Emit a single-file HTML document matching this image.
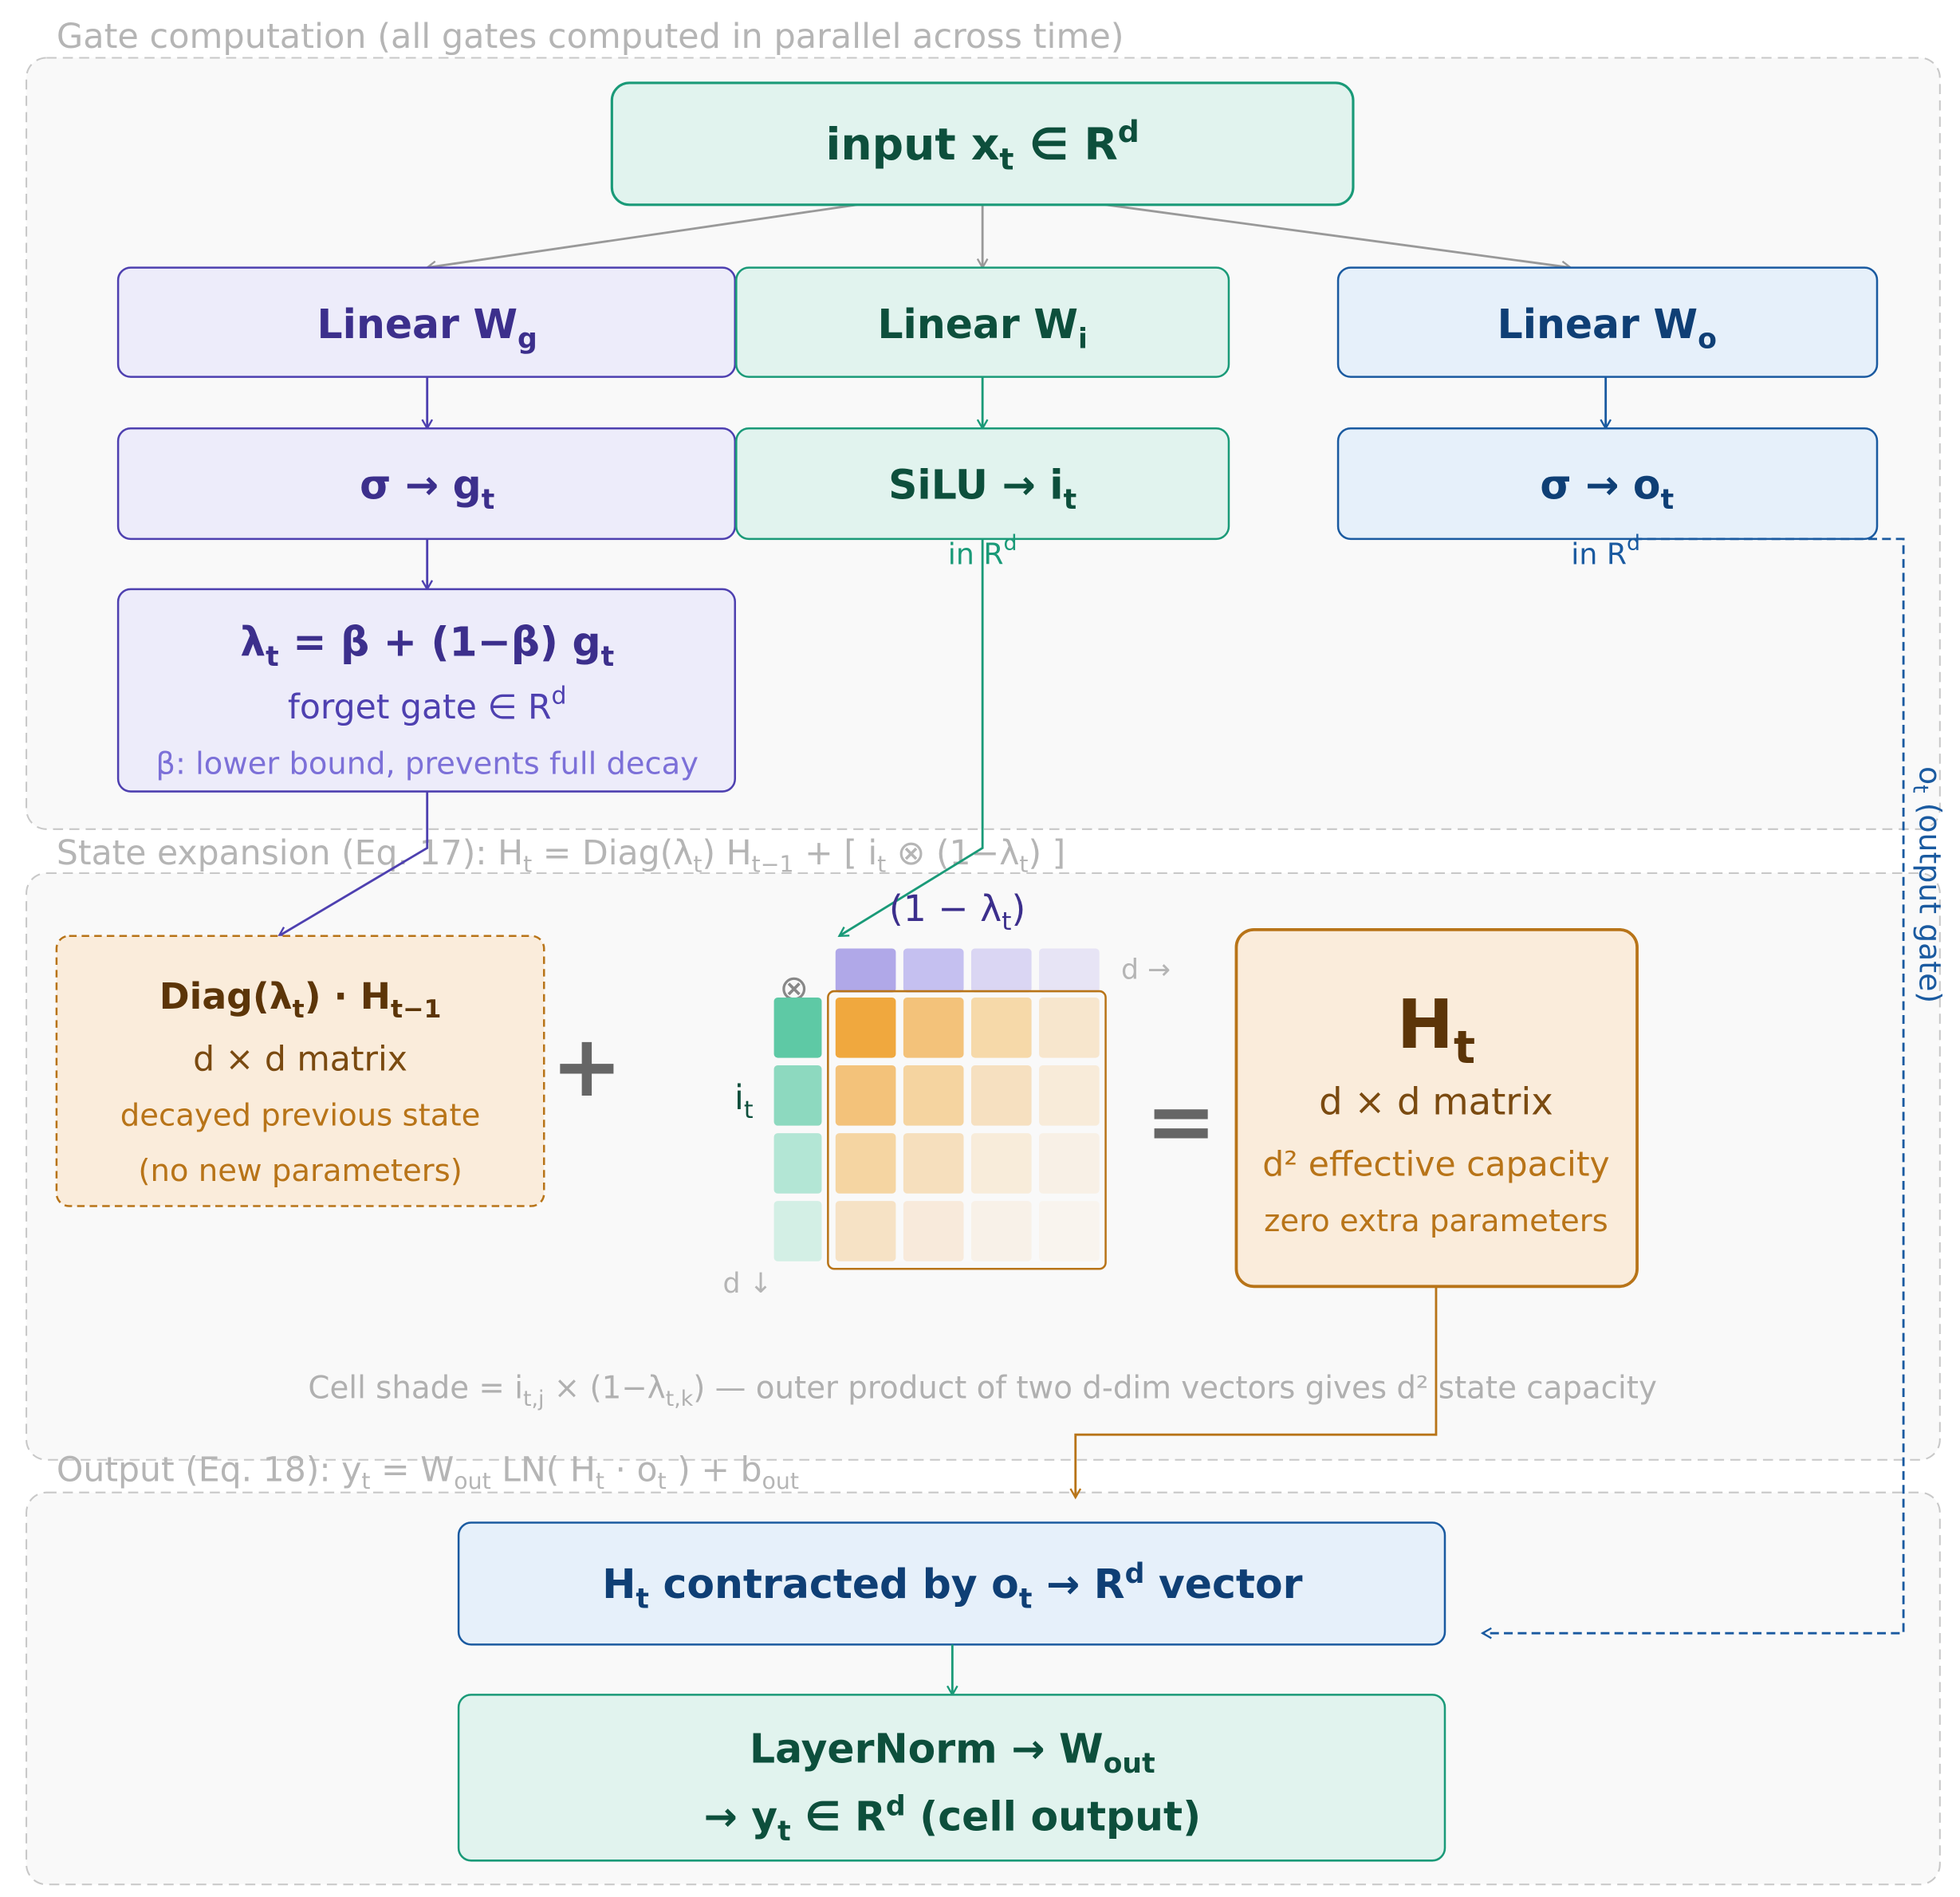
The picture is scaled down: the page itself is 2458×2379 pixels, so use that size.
<!DOCTYPE html>
<html><head><meta charset="utf-8"><style>
html,body{margin:0;padding:0;background:#fff;}
svg{display:block;}
text{font-family:"DejaVu Sans","Liberation Sans",sans-serif;}
</style></head><body>
<svg width="2458" height="2379" viewBox="0 0 1560 1510" preserveAspectRatio="none" xmlns="http://www.w3.org/2000/svg">
<defs>
<marker id="ag" markerWidth="10" markerHeight="10" refX="8" refY="5" orient="auto" markerUnits="userSpaceOnUse"><path d="M1,1 L8,5 L1,9" fill="none" stroke="#999" stroke-width="1.5"/></marker>
<marker id="ap" markerWidth="10" markerHeight="10" refX="8" refY="5" orient="auto" markerUnits="userSpaceOnUse"><path d="M1,1 L8,5 L1,9" fill="none" stroke="#4e40b0" stroke-width="1.5"/></marker>
<marker id="agr" markerWidth="10" markerHeight="10" refX="8" refY="5" orient="auto" markerUnits="userSpaceOnUse"><path d="M1,1 L8,5 L1,9" fill="none" stroke="#1a9a78" stroke-width="1.5"/></marker>
<marker id="ab" markerWidth="10" markerHeight="10" refX="8" refY="5" orient="auto" markerUnits="userSpaceOnUse"><path d="M1,1 L8,5 L1,9" fill="none" stroke="#1a5aa0" stroke-width="1.5"/></marker>
<marker id="ao" markerWidth="10" markerHeight="10" refX="8" refY="5" orient="auto" markerUnits="userSpaceOnUse"><path d="M1,1 L8,5 L1,9" fill="none" stroke="#b87418" stroke-width="1.5"/></marker>
</defs>
<rect width="1560" height="1510" fill="#fff"/>
<rect x="21" y="46" width="1523" height="614" rx="16" fill="#f9f9f9" stroke="#c8c8c8" stroke-width="1.3" stroke-dasharray="8,5"/>
<rect x="21" y="695" width="1523" height="467" rx="16" fill="#f9f9f9" stroke="#c8c8c8" stroke-width="1.3" stroke-dasharray="8,5"/>
<rect x="21" y="1188" width="1523" height="312" rx="16" fill="#f9f9f9" stroke="#c8c8c8" stroke-width="1.3" stroke-dasharray="8,5"/>
<text x="45" y="38" font-size="27.3" fill="#b5b5b5">Gate computation (all gates computed in parallel across time)</text>
<text x="45" y="688" font-size="27" fill="#b5b5b5">State expansion (Eq. 17): H<tspan font-size="18" dy="6">t</tspan><tspan dy="-6"> = Diag(λ</tspan><tspan font-size="18" dy="6">t</tspan><tspan dy="-6">) H</tspan><tspan font-size="18" dy="6">t−1</tspan><tspan dy="-6"> + [ i</tspan><tspan font-size="18" dy="6">t</tspan><tspan dy="-6"> ⊗ (1−λ</tspan><tspan font-size="18" dy="6">t</tspan><tspan dy="-6">) ]</tspan></text>
<text x="45" y="1179" font-size="27" fill="#b5b5b5">Output (Eq. 18): y<tspan font-size="18" dy="6">t</tspan><tspan dy="-6"> = W</tspan><tspan font-size="18" dy="6">out</tspan><tspan dy="-6"> LN( H</tspan><tspan font-size="18" dy="6">t</tspan><tspan dy="-6"> · o</tspan><tspan font-size="18" dy="6">t</tspan><tspan dy="-6"> ) + b</tspan><tspan font-size="18" dy="6">out</tspan></text>

<line x1="682" y1="163" x2="340" y2="213" stroke="#999" stroke-width="1.8" marker-end="url(#ag)"/>
<line x1="782" y1="163" x2="782" y2="213" stroke="#999" stroke-width="1.8" marker-end="url(#ag)"/>
<line x1="880" y1="163" x2="1250" y2="213" stroke="#999" stroke-width="1.8" marker-end="url(#ag)"/>

<rect x="487" y="66" width="590" height="97" rx="14" fill="#e1f3ee" stroke="#1a9a78" stroke-width="2"/>
<text x="782" y="127" font-size="35" font-weight="bold" fill="#0d4f3c" text-anchor="middle">input x<tspan font-size="24" dy="8">t</tspan><tspan dy="-8"> ∈ R</tspan><tspan font-size="24" dy="-14">d</tspan></text>

<rect x="94" y="213" width="491" height="87" rx="10" fill="#edecfa" stroke="#4e40b0" stroke-width="1.6"/>
<text x="340" y="269" font-size="32" font-weight="bold" fill="#3c2f8c" text-anchor="middle">Linear W<tspan font-size="22" dy="8">g</tspan></text>
<rect x="586" y="213" width="392" height="87" rx="10" fill="#e1f3ee" stroke="#1a9a78" stroke-width="1.6"/>
<text x="782" y="269" font-size="32" font-weight="bold" fill="#0d4f3c" text-anchor="middle">Linear W<tspan font-size="22" dy="8">i</tspan></text>
<rect x="1065" y="213" width="429" height="87" rx="10" fill="#e6f0fa" stroke="#1a5aa0" stroke-width="1.6"/>
<text x="1279" y="269" font-size="32" font-weight="bold" fill="#0f3f75" text-anchor="middle">Linear W<tspan font-size="22" dy="8">o</tspan></text>

<line x1="340" y1="300" x2="340" y2="341" stroke="#4e40b0" stroke-width="1.8" marker-end="url(#ap)"/>
<line x1="782" y1="300" x2="782" y2="341" stroke="#1a9a78" stroke-width="1.8" marker-end="url(#agr)"/>
<line x1="1278" y1="300" x2="1278" y2="341" stroke="#1a5aa0" stroke-width="1.8" marker-end="url(#ab)"/>

<rect x="94" y="341" width="491" height="88" rx="10" fill="#edecfa" stroke="#4e40b0" stroke-width="1.6"/>
<text x="340" y="397" font-size="32" font-weight="bold" fill="#3c2f8c" text-anchor="middle">σ → g<tspan font-size="22" dy="8">t</tspan></text>
<rect x="586" y="341" width="392" height="88" rx="10" fill="#e1f3ee" stroke="#1a9a78" stroke-width="1.6"/>
<text x="782" y="397" font-size="32" font-weight="bold" fill="#0d4f3c" text-anchor="middle">SiLU → i<tspan font-size="22" dy="8">t</tspan></text>
<rect x="1065" y="341" width="429" height="88" rx="10" fill="#e6f0fa" stroke="#1a5aa0" stroke-width="1.6"/>
<text x="1279" y="397" font-size="32" font-weight="bold" fill="#0f3f75" text-anchor="middle">σ → o<tspan font-size="22" dy="8">t</tspan></text>
<text x="782" y="449" font-size="23" fill="#1a9a78" text-anchor="middle">in R<tspan font-size="17" dy="-11">d</tspan></text>
<text x="1278" y="449" font-size="23" fill="#1a5aa0" text-anchor="middle">in R<tspan font-size="17" dy="-11">d</tspan></text>

<line x1="340" y1="429" x2="340" y2="469" stroke="#4e40b0" stroke-width="1.8" marker-end="url(#ap)"/>

<rect x="94" y="469" width="491" height="161" rx="10" fill="#edecfa" stroke="#4e40b0" stroke-width="1.6"/>
<text x="340" y="522" font-size="32" font-weight="bold" fill="#3c2f8c" text-anchor="middle">λ<tspan font-size="22" dy="8">t</tspan><tspan dy="-8"> = β + (1−β) g</tspan><tspan font-size="22" dy="8">t</tspan></text>
<text x="340" y="572" font-size="27" fill="#4e40b0" text-anchor="middle">forget gate ∈ R<tspan font-size="19" dy="-12">d</tspan></text>
<text x="340" y="616" font-size="24.4" fill="#7c70d8" text-anchor="middle">β: lower bound, prevents full decay</text>

<polyline points="340,630 340,675 222,745" fill="none" stroke="#4e40b0" stroke-width="1.8" marker-end="url(#ap)"/>
<polyline points="782,429 782,675 668,745" fill="none" stroke="#1a9a78" stroke-width="1.8" marker-end="url(#agr)"/>
<polyline points="1300,429 1515,429 1515,1300 1180,1300" fill="none" stroke="#1a5aa0" stroke-width="1.8" stroke-dasharray="7,4" marker-end="url(#ab)"/>
<text transform="translate(1528,610) rotate(90)" font-size="24" fill="#1a5aa0">o<tspan font-size="17" dy="5">t</tspan><tspan dy="-5"> (output gate)</tspan></text>

<rect x="45" y="745" width="388" height="215" rx="10" fill="#faecdb" stroke="#b87418" stroke-width="1.6" stroke-dasharray="6,4"/>
<text x="239" y="803" font-size="29" font-weight="bold" fill="#5c3508" text-anchor="middle">Diag(λ<tspan font-size="20" dy="7">t</tspan><tspan dy="-7">) · H</tspan><tspan font-size="20" dy="7">t−1</tspan></text>
<text x="239" y="852" font-size="27" fill="#7a4a10" text-anchor="middle">d × d matrix</text>
<text x="239" y="896" font-size="24.5" fill="#b87418" text-anchor="middle">decayed previous state</text>
<text x="239" y="940" font-size="24.5" fill="#b87418" text-anchor="middle">(no new parameters)</text>
<text x="467" y="872" font-size="68" font-weight="bold" fill="#666" text-anchor="middle">+</text>

<text x="762" y="733" font-size="29" fill="#3c2f8c" text-anchor="middle">(1 − λ<tspan font-size="20" dy="7">t</tspan><tspan dy="-7">)</tspan></text>
<rect x="665" y="755" width="48" height="35" rx="3" fill="#b0a8e8"/>
<rect x="719" y="755" width="48" height="35" rx="3" fill="#c5c0f0"/>
<rect x="773" y="755" width="48" height="35" rx="3" fill="#dad6f3"/>
<rect x="827" y="755" width="48" height="35" rx="3" fill="#e7e4f5"/>
<text x="912" y="779" font-size="22" fill="#b5b5b5" text-anchor="middle">d →</text>
<text x="632" y="796" font-size="28" fill="#888" text-anchor="middle">⊗</text>
<rect x="616" y="794" width="38" height="48" rx="3" fill="#5ec9a5"/>
<rect x="616" y="848" width="38" height="48" rx="3" fill="#8dd9bf"/>
<rect x="616" y="902" width="38" height="48" rx="3" fill="#b3e6d5"/>
<rect x="616" y="956" width="38" height="48" rx="3" fill="#d3efe5"/>
<text x="592" y="883" font-size="27" fill="#0d4f3c" text-anchor="middle">i<tspan font-size="19" dy="7">t</tspan></text>
<text x="595" y="1029" font-size="22" fill="#b5b5b5" text-anchor="middle">d ↓</text>
<g>
<rect x="665" y="794" width="48" height="48" rx="3" fill="#f0a83e"/>
<rect x="719" y="794" width="48" height="48" rx="3" fill="#f3c27a"/>
<rect x="773" y="794" width="48" height="48" rx="3" fill="#f6d9a9"/>
<rect x="827" y="794" width="48" height="48" rx="3" fill="#f7e6cd"/>
<rect x="665" y="848" width="48" height="48" rx="3" fill="#f3c27a"/>
<rect x="719" y="848" width="48" height="48" rx="3" fill="#f5d4a0"/>
<rect x="773" y="848" width="48" height="48" rx="3" fill="#f6e0c0"/>
<rect x="827" y="848" width="48" height="48" rx="3" fill="#f8ebd9"/>
<rect x="665" y="902" width="48" height="48" rx="3" fill="#f5d5a2"/>
<rect x="719" y="902" width="48" height="48" rx="3" fill="#f6dfbd"/>
<rect x="773" y="902" width="48" height="48" rx="3" fill="#f8ecda"/>
<rect x="827" y="902" width="48" height="48" rx="3" fill="#f8f0e6"/>
<rect x="665" y="956" width="48" height="48" rx="3" fill="#f6e2c5"/>
<rect x="719" y="956" width="48" height="48" rx="3" fill="#f8eadb"/>
<rect x="773" y="956" width="48" height="48" rx="3" fill="#f8f1e8"/>
<rect x="827" y="956" width="48" height="48" rx="3" fill="#f9f4ee"/>
</g>
<rect x="659" y="789" width="221" height="221" rx="5" fill="none" stroke="#b87418" stroke-width="1.6"/>
<text x="940" y="916" font-size="68" font-weight="bold" fill="#666" text-anchor="middle">=</text>

<rect x="984" y="740" width="319" height="284" rx="14" fill="#faecdb" stroke="#b87418" stroke-width="2.4"/>
<text x="1143" y="834" font-size="54" font-weight="bold" fill="#5c3508" text-anchor="middle">H<tspan font-size="36" dy="12">t</tspan></text>
<text x="1143" y="887" font-size="29.5" fill="#7a4a10" text-anchor="middle">d × d matrix</text>
<text x="1143" y="936" font-size="27" fill="#b87418" text-anchor="middle">d² effective capacity</text>
<text x="1143" y="980" font-size="24.5" fill="#b87418" text-anchor="middle">zero extra parameters</text>

<text x="782" y="1113" font-size="24.6" fill="#b0b0b0" text-anchor="middle">Cell shade = i<tspan font-size="17" dy="6">t,j</tspan><tspan dy="-6"> × (1−λ</tspan><tspan font-size="17" dy="6">t,k</tspan><tspan dy="-6">) — outer product of two d-dim vectors gives d² state capacity</tspan></text>

<polyline points="1143,1024 1143,1142 856,1142 856,1192" fill="none" stroke="#b87418" stroke-width="1.8" marker-end="url(#ao)"/>

<rect x="365" y="1212" width="785" height="97" rx="10" fill="#e6f0fa" stroke="#1a5aa0" stroke-width="1.6"/>
<text x="758" y="1272" font-size="32" font-weight="bold" fill="#0f3f75" text-anchor="middle">H<tspan font-size="22" dy="8">t</tspan><tspan dy="-8"> contracted by o</tspan><tspan font-size="22" dy="8">t</tspan><tspan dy="-8"> → R</tspan><tspan font-size="22" dy="-12">d</tspan><tspan dy="12"> vector</tspan></text>
<line x1="758" y1="1309" x2="758" y2="1349" stroke="#1a9a78" stroke-width="1.8" marker-end="url(#agr)"/>
<rect x="365" y="1349" width="785" height="132" rx="10" fill="#e1f3ee" stroke="#1a9a78" stroke-width="1.6"/>
<text x="758" y="1403" font-size="32" font-weight="bold" fill="#0d4f3c" text-anchor="middle">LayerNorm → W<tspan font-size="22" dy="8">out</tspan></text>
<text x="758" y="1457" font-size="32" font-weight="bold" fill="#0d4f3c" text-anchor="middle">→ y<tspan font-size="22" dy="8">t</tspan><tspan dy="-8"> ∈ R</tspan><tspan font-size="22" dy="-12">d</tspan><tspan dy="12"> (cell output)</tspan></text>
</svg>
</body></html>
